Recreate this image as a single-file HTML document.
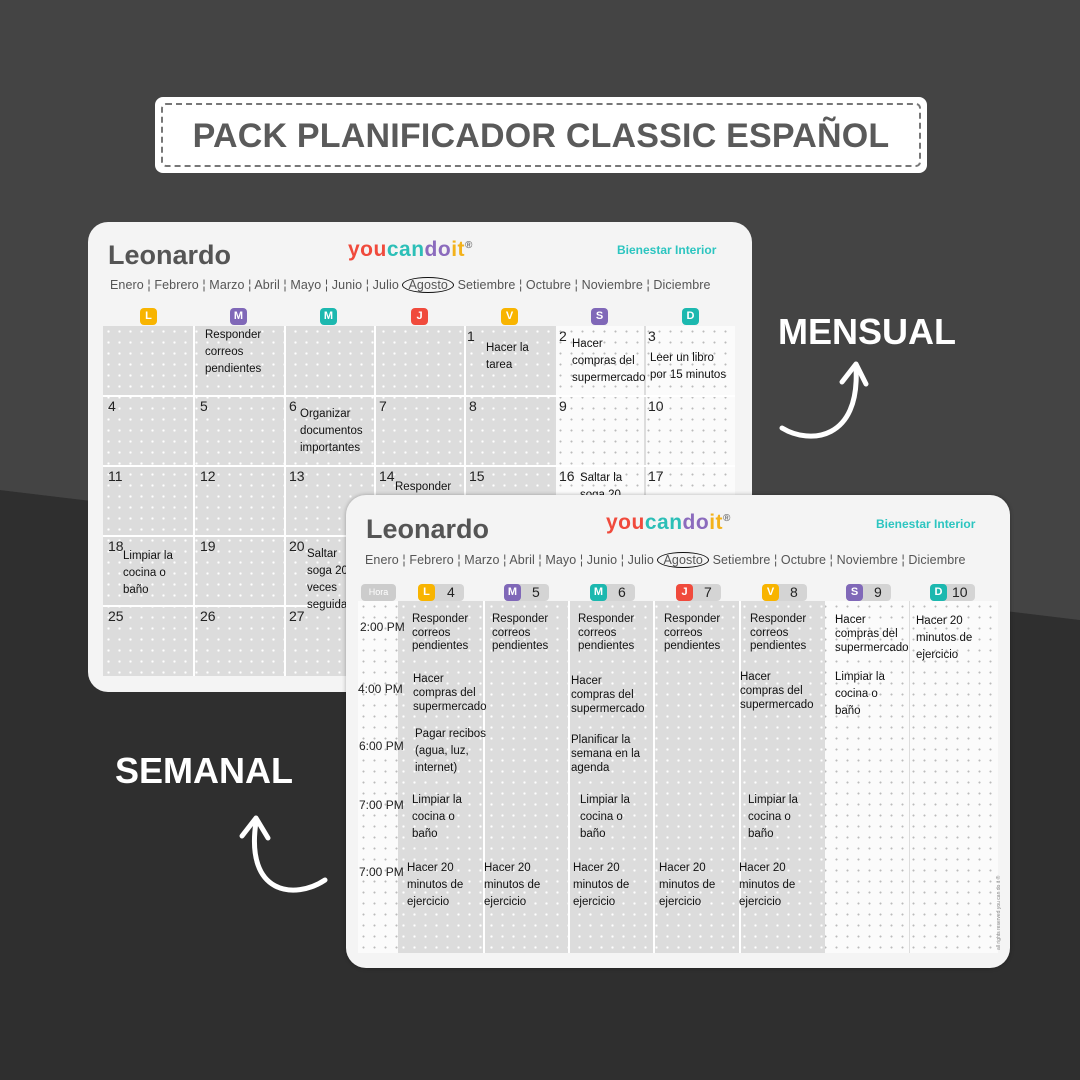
<!DOCTYPE html>
<html><head><meta charset="utf-8"><style>
*{margin:0;padding:0;box-sizing:border-box}
body{width:1080px;height:1080px;overflow:hidden;background:#3c3c3c;position:relative;font-family:"Liberation Sans",sans-serif}
.a{position:absolute}
.hw{position:absolute;font-family:"Liberation Sans Narrow","Liberation Sans",sans-serif;font-size:11.5px;line-height:17px;color:#111;white-space:nowrap}
.num{position:absolute;font-family:"Liberation Sans",sans-serif;font-size:14px;color:#222}
.card{position:absolute;background:#f4f4f4;border-radius:20px;overflow:hidden}
.gray{position:absolute;background-color:#dcdcdc;background-image:radial-gradient(circle,#fff 1px,transparent 1.3px);background-size:11px 11px}
.white{position:absolute;background-color:#fbfbfb;background-image:radial-gradient(circle,#bbb 0.8px,transparent 1.2px);background-size:11px 11px}
.badge{position:absolute;width:17px;height:17px;border-radius:4px;color:#fff;font-size:11px;font-weight:bold;text-align:center;line-height:17px}
.months{position:absolute;font-size:12.5px;color:#555;white-space:nowrap;letter-spacing:0.1px}
.name{position:absolute;font-size:27px;font-weight:bold;color:#555}
.logo{position:absolute;font-size:21px;font-weight:bold;letter-spacing:0.5px}
.bi{position:absolute;font-size:12px;font-weight:bold;color:#2cc5c0}
.vl{position:absolute;width:2px;background:#fff}
.hl{position:absolute;height:2px;background:#fff}
.time{position:absolute;font-family:"Liberation Sans Narrow","Liberation Sans",sans-serif;font-size:12px;color:#222}
.wb{position:absolute;height:17px;background:#d4d4d4;border-radius:4px;font-size:14px;color:#222;line-height:17px}
</style></head><body>
<svg class="a" style="left:0;top:0" width="1080" height="1080"><polygon points="0,490 1080,620 1080,1080 0,1080" fill="#2f2f2f"/><polygon points="0,0 1080,0 1080,620 0,490" fill="#444"/></svg>

<div class="a" style="left:155px;top:97px;width:772px;height:76px;background:#fff;border-radius:8px"></div>
<div class="a" style="left:161px;top:103px;width:760px;height:64px;border:2px dashed #777;border-radius:5px"></div>
<div class="a" style="left:155px;top:117px;width:772px;text-align:center;font-size:34px;font-weight:bold;color:#5a5a5a;letter-spacing:0.2px">PACK PLANIFICADOR CLASSIC ESPAÑOL</div>

<!-- Monthly -->
<div class="card" style="left:88px;top:222px;width:664px;height:470px">
<div class="name" style="left:20px;top:18px">Leonardo</div>
<div class="logo" style="left:260px;top:16px"><span style="color:#f04a3c">you</span><span style="color:#2cbfb7">can</span><span style="color:#8b6bbd">do</span><span style="color:#f3b21b">it</span><sup style="font-size:10px;color:#777">®</sup></div>
<div class="bi" style="left:529px;top:21px">Bienestar Interior</div>
<div class="months" style="left:22px;top:56px">Enero ¦ Febrero ¦ Marzo ¦ Abril ¦ Mayo ¦ Junio ¦ Julio <span style="border:1.5px solid #111;border-radius:50%;padding:0 5px">Agosto</span> Setiembre ¦ Octubre ¦ Noviembre ¦ Diciembre</div>
<div class="badge" style="left:52px;top:86px;background:#f8b400">L</div>
<div class="badge" style="left:142px;top:86px;background:#8068b8">M</div>
<div class="badge" style="left:232px;top:86px;background:#1cb8af">M</div>
<div class="badge" style="left:323px;top:86px;background:#f04a3c">J</div>
<div class="badge" style="left:413px;top:86px;background:#f8b400">V</div>
<div class="badge" style="left:503px;top:86px;background:#8068b8">S</div>
<div class="badge" style="left:594px;top:86px;background:#1cb8af">D</div>
<div class="gray" style="left:15px;top:104px;width:452px;height:350px"></div>
<div class="white" style="left:467px;top:104px;width:180px;height:350px"></div>
<div class="vl" style="left:105px;top:104px;height:350px"></div>
<div class="vl" style="left:196px;top:104px;height:350px"></div>
<div class="vl" style="left:286px;top:104px;height:350px"></div>
<div class="vl" style="left:376px;top:104px;height:350px"></div>
<div class="vl" style="left:466px;top:104px;height:350px;background:#ddd"></div>
<div class="vl" style="left:556px;top:104px;height:350px;background:#ddd"></div>
<div class="hl" style="left:15px;top:173px;width:632px"></div>
<div class="hl" style="left:15px;top:243px;width:632px"></div>
<div class="hl" style="left:15px;top:313px;width:632px"></div>
<div class="hl" style="left:15px;top:383px;width:632px"></div>
</div>
<div class="hw" style="left:205px;top:327px">Responder<br>correos<br>pendientes</div>
<div class="num" style="left:467px;top:328px">1</div><div class="hw" style="left:486px;top:340px">Hacer la<br>tarea</div>
<div class="num" style="left:559px;top:328px">2</div><div class="hw" style="left:572px;top:336px">Hacer<br>compras del<br>supermercado</div>
<div class="num" style="left:648px;top:328px">3</div><div class="hw" style="left:650px;top:350px">Leer un libro<br>por 15 minutos</div>
<div class="num" style="left:108px;top:398px">4</div><div class="num" style="left:200px;top:398px">5</div>
<div class="num" style="left:289px;top:398px">6</div><div class="hw" style="left:300px;top:406px">Organizar<br>documentos<br>importantes</div>
<div class="num" style="left:379px;top:398px">7</div><div class="num" style="left:469px;top:398px">8</div>
<div class="num" style="left:559px;top:398px">9</div><div class="num" style="left:648px;top:398px">10</div>
<div class="num" style="left:108px;top:468px">11</div><div class="num" style="left:200px;top:468px">12</div><div class="num" style="left:289px;top:468px">13</div>
<div class="num" style="left:379px;top:468px">14</div><div class="hw" style="left:395px;top:479px">Responder</div>
<div class="num" style="left:469px;top:468px">15</div><div class="num" style="left:559px;top:468px">16</div><div class="hw" style="left:580px;top:470px">Saltar la<br>soga 20</div>
<div class="num" style="left:648px;top:468px">17</div>
<div class="num" style="left:108px;top:538px">18</div><div class="hw" style="left:123px;top:548px">Limpiar la<br>cocina o<br>baño</div>
<div class="num" style="left:200px;top:538px">19</div><div class="num" style="left:289px;top:538px">20</div><div class="hw" style="left:307px;top:546px">Saltar<br>soga 20<br>veces<br>seguida</div>
<div class="num" style="left:108px;top:608px">25</div><div class="num" style="left:200px;top:608px">26</div><div class="num" style="left:289px;top:608px">27</div>

<!-- Weekly -->
<div class="card" style="left:346px;top:495px;width:664px;height:473px;box-shadow:0 0 4px rgba(0,0,0,.3)">
<div class="name" style="left:20px;top:19px">Leonardo</div>
<div class="logo" style="left:260px;top:16px"><span style="color:#f04a3c">you</span><span style="color:#2cbfb7">can</span><span style="color:#8b6bbd">do</span><span style="color:#f3b21b">it</span><sup style="font-size:10px;color:#777">®</sup></div>
<div class="bi" style="left:530px;top:22px">Bienestar Interior</div>
<div class="months" style="left:19px;top:58px">Enero ¦ Febrero ¦ Marzo ¦ Abril ¦ Mayo ¦ Junio ¦ Julio <span style="border:1.5px solid #111;border-radius:50%;padding:0 5px">Agosto</span> Setiembre ¦ Octubre ¦ Noviembre ¦ Diciembre</div>
<div class="wb" style="left:15px;top:89px;width:35px;font-size:9px;color:#fff;text-align:center;background:#ccc">Hora</div>
<div class="wb" style="left:73px;top:89px;width:45px;padding-left:28px">4</div><div class="badge" style="left:72px;top:89px;background:#f8b400">L</div>
<div class="wb" style="left:158px;top:89px;width:45px;padding-left:28px">5</div><div class="badge" style="left:158px;top:89px;background:#8068b8">M</div>
<div class="wb" style="left:244px;top:89px;width:45px;padding-left:28px">6</div><div class="badge" style="left:244px;top:89px;background:#1cb8af">M</div>
<div class="wb" style="left:330px;top:89px;width:45px;padding-left:28px">7</div><div class="badge" style="left:330px;top:89px;background:#f04a3c">J</div>
<div class="wb" style="left:416px;top:89px;width:45px;padding-left:28px">8</div><div class="badge" style="left:416px;top:89px;background:#f8b400">V</div>
<div class="wb" style="left:500px;top:89px;width:45px;padding-left:28px">9</div><div class="badge" style="left:500px;top:89px;background:#8068b8">S</div>
<div class="wb" style="left:584px;top:89px;width:45px;padding-left:22px">10</div><div class="badge" style="left:584px;top:89px;background:#1cb8af">D</div>
<div class="white" style="left:12px;top:106px;width:640px;height:352px"></div>
<div class="gray" style="left:52px;top:106px;width:427px;height:352px"></div>
<div class="vl" style="left:137px;top:106px;height:352px"></div>
<div class="vl" style="left:222px;top:106px;height:352px"></div>
<div class="vl" style="left:307px;top:106px;height:352px"></div>
<div class="vl" style="left:393px;top:106px;height:352px"></div>
<div class="vl" style="left:563px;top:106px;height:352px;background:#ddd;width:1px"></div>
<div class="a" style="left:650px;top:455px;font-size:5px;color:#888;transform:rotate(-90deg);transform-origin:left top;white-space:nowrap">all rights reserved you can do it ®</div>
</div>
<div class="time" style="left:360px;top:620px">2:00 PM</div>
<div class="time" style="left:358px;top:682px">4:00 PM</div>
<div class="time" style="left:359px;top:739px">6:00 PM</div>
<div class="time" style="left:359px;top:798px">7:00 PM</div>
<div class="time" style="left:359px;top:865px">7:00 PM</div>

<div class="hw" style="left:412px;top:613px;line-height:13.5px">Responder<br>correos<br>pendientes</div>
<div class="hw" style="left:492px;top:613px;line-height:13.5px">Responder<br>correos<br>pendientes</div>
<div class="hw" style="left:578px;top:613px;line-height:13.5px">Responder<br>correos<br>pendientes</div>
<div class="hw" style="left:664px;top:613px;line-height:13.5px">Responder<br>correos<br>pendientes</div>
<div class="hw" style="left:750px;top:613px;line-height:13.5px">Responder<br>correos<br>pendientes</div>
<div class="hw" style="left:835px;top:613px;line-height:14px">Hacer<br>compras del<br>supermercado</div>
<div class="hw" style="left:916px;top:613px">Hacer 20<br>minutos de<br>ejercicio</div>
<div class="hw" style="left:413px;top:672px;line-height:14px">Hacer<br>compras del<br>supermercado</div>
<div class="hw" style="left:571px;top:674px;line-height:14px">Hacer<br>compras del<br>supermercado</div>
<div class="hw" style="left:740px;top:670px;line-height:14px">Hacer<br>compras del<br>supermercado</div>
<div class="hw" style="left:835px;top:669px">Limpiar la<br>cocina o<br>baño</div>
<div class="hw" style="left:415px;top:726px">Pagar recibos<br>(agua, luz,<br>internet)</div>
<div class="hw" style="left:571px;top:733px;line-height:14px">Planificar la<br>semana en la<br>agenda</div>
<div class="hw" style="left:412px;top:792px">Limpiar la<br>cocina o<br>baño</div>
<div class="hw" style="left:580px;top:792px">Limpiar la<br>cocina o<br>baño</div>
<div class="hw" style="left:748px;top:792px">Limpiar la<br>cocina o<br>baño</div>
<div class="hw" style="left:407px;top:860px">Hacer 20<br>minutos de<br>ejercicio</div>
<div class="hw" style="left:484px;top:860px">Hacer 20<br>minutos de<br>ejercicio</div>
<div class="hw" style="left:573px;top:860px">Hacer 20<br>minutos de<br>ejercicio</div>
<div class="hw" style="left:659px;top:860px">Hacer 20<br>minutos de<br>ejercicio</div>
<div class="hw" style="left:739px;top:860px">Hacer 20<br>minutos de<br>ejercicio</div>

<div class="a" style="left:778px;top:311px;font-size:36px;font-weight:bold;color:#fff">MENSUAL</div>
<div class="a" style="left:115px;top:750px;font-size:36px;font-weight:bold;color:#fff">SEMANAL</div>
<svg class="a" style="left:0;top:0" width="1080" height="1080" fill="none" stroke="#fff" stroke-width="5" stroke-linecap="round" stroke-linejoin="round">
<path d="M782 428 C810 445 860 440 856 368"/><path d="M842 382 L856 364 L866 384"/>
<path d="M325 880 C295 900 245 895 256 822"/><path d="M242 836 L256 818 L268 838"/>
</svg>
</body></html>
